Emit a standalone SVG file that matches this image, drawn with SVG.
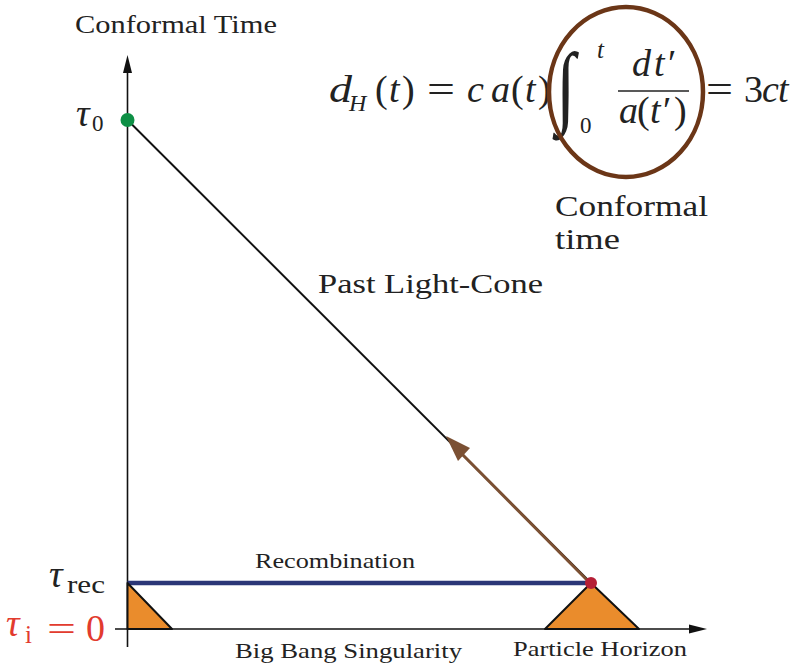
<svg xmlns="http://www.w3.org/2000/svg" width="792" height="666" viewBox="0 0 792 666">
<style>
text{font-family:"Liberation Serif","Times New Roman",serif;fill:#222}
.lbl{font-size:21px}
.m{font-style:italic}
.up{font-style:normal}
.red{fill:#e23b2e}
</style>
<rect width="792" height="666" fill="#fff"/>

<g id="connectors">
<line x1="127.5" y1="647" x2="127.5" y2="73" stroke="#111" stroke-width="1.6"/>
<path d="M127.5,55 L123,73 L132,73 Z" fill="#111"/>
<line x1="115" y1="629" x2="690" y2="629" stroke="#111" stroke-width="1.6"/>
<path d="M707,629 L689,624.5 L689,633.5 Z" fill="#111"/>
<line x1="127.5" y1="583" x2="587" y2="583" stroke="#2b3677" stroke-width="4.5"/>
<line x1="127.5" y1="120" x2="591" y2="583" stroke="#111" stroke-width="2"/>
<line x1="590" y1="583" x2="458" y2="450" stroke="#7b5033" stroke-width="3"/>
<path d="M446,436 L470,448 L458,461 Z" fill="#7b5033"/>
</g>

<g id="cone-left">
<path d="M127.5,583 L172,629 L127.5,629 Z" fill="#ea8c2c" stroke="#111" stroke-width="2" stroke-linejoin="round"/>
</g>
<g id="cone-right">
<path d="M591,583 L639,629 L545,629 Z" fill="#ea8c2c" stroke="#111" stroke-width="2" stroke-linejoin="round"/>
</g>
<g id="tau0-point">
<circle cx="127.5" cy="120" r="7" fill="#0d8f45"/>
</g>
<g id="rec-point">
<circle cx="591" cy="583" r="6" fill="#b51f36"/>
</g>

<g id="axis-label">
<text x="75" y="33" style="font-size:25px" textLength="202" lengthAdjust="spacingAndGlyphs">Conformal Time</text>
</g>
<g id="tau0-label">
<text x="76" y="126" class="m" style="font-size:38px">τ</text>
<text x="92" y="131" class="up" style="font-size:23px">0</text>
</g>
<g id="taurec-label">
<text x="49" y="587" class="m" style="font-size:38px">τ</text>
<text x="67" y="593" class="up" style="font-size:25px" textLength="38" lengthAdjust="spacingAndGlyphs">rec</text>
</g>
<g id="taui-label">
<text x="6" y="636" class="m red" style="font-size:38px">τ</text>
<text x="25" y="643" class="up red" style="font-size:25px">i</text>
<text x="47" y="641" class="red" style="font-size:36px" textLength="29" lengthAdjust="spacingAndGlyphs">=</text>
<text x="86" y="641" class="red" style="font-size:38px">0</text>
</g>

<g id="past-light-cone">
<text x="318" y="293" style="font-size:28px" textLength="225" lengthAdjust="spacingAndGlyphs">Past Light-Cone</text>
</g>
<g id="recombination">
<text x="255" y="568" class="lbl" textLength="160" lengthAdjust="spacingAndGlyphs">Recombination</text>
</g>
<g id="big-bang">
<text x="235" y="658" class="lbl" textLength="227" lengthAdjust="spacingAndGlyphs">Big Bang Singularity</text>
</g>
<g id="particle-horizon">
<text x="513" y="656" class="lbl" textLength="174" lengthAdjust="spacingAndGlyphs">Particle Horizon</text>
</g>

<g id="formula" style="font-size:38px">
<text x="329" y="102" class="m" textLength="23" lengthAdjust="spacingAndGlyphs">d</text>
<text x="349" y="111" class="m" style="font-size:24px">H</text>
<text x="375" y="102" class="up">(</text>
<text x="389" y="102" class="m">t</text>
<text x="402" y="102" class="up">)</text>
<text x="427" y="102" class="up" textLength="28" lengthAdjust="spacingAndGlyphs">=</text>
<text x="467" y="102" class="m">c</text>
<text x="491" y="102" class="m">a</text>
<text x="511" y="102" class="up">(</text>
<text x="525" y="102" class="m">t</text>
<text x="538" y="102" class="up">)</text>
<text x="556" y="116" class="up" style="font-size:70px" transform="translate(556 116) scale(1 1.3) translate(-556 -116)">∫</text>
<text x="597" y="58" class="m" style="font-size:25px">t</text>
<text x="580" y="133" class="up" style="font-size:23px">0</text>
<text x="632" y="76" class="m">d</text>
<text x="654" y="76" class="m">t</text>
<text x="668" y="76" class="up">′</text>
<line x1="618" y1="91" x2="689" y2="91" stroke="#222" stroke-width="1.6"/>
<text x="619" y="123" class="m">a</text>
<text x="637" y="123" class="up">(</text>
<text x="650" y="123" class="m">t</text>
<text x="663" y="123" class="up">′</text>
<text x="674" y="123" class="up">)</text>
<text x="706" y="102" class="up" textLength="27" lengthAdjust="spacingAndGlyphs">=</text>
<text x="744" y="102" class="up">3</text>
<text x="762" y="102" class="m">c</text>
<text x="778" y="102" class="m">t</text>
</g>

<g id="conformal-circle">
<ellipse cx="626" cy="92" rx="77" ry="85" fill="none" stroke="#6b3617" stroke-width="4.5"/>
</g>
<g id="conformal-note">
<text x="555" y="216" style="font-size:29px" textLength="153" lengthAdjust="spacingAndGlyphs">Conformal</text>
<text x="555" y="249" style="font-size:29px" textLength="65" lengthAdjust="spacingAndGlyphs">time</text>
</g>
</svg>
